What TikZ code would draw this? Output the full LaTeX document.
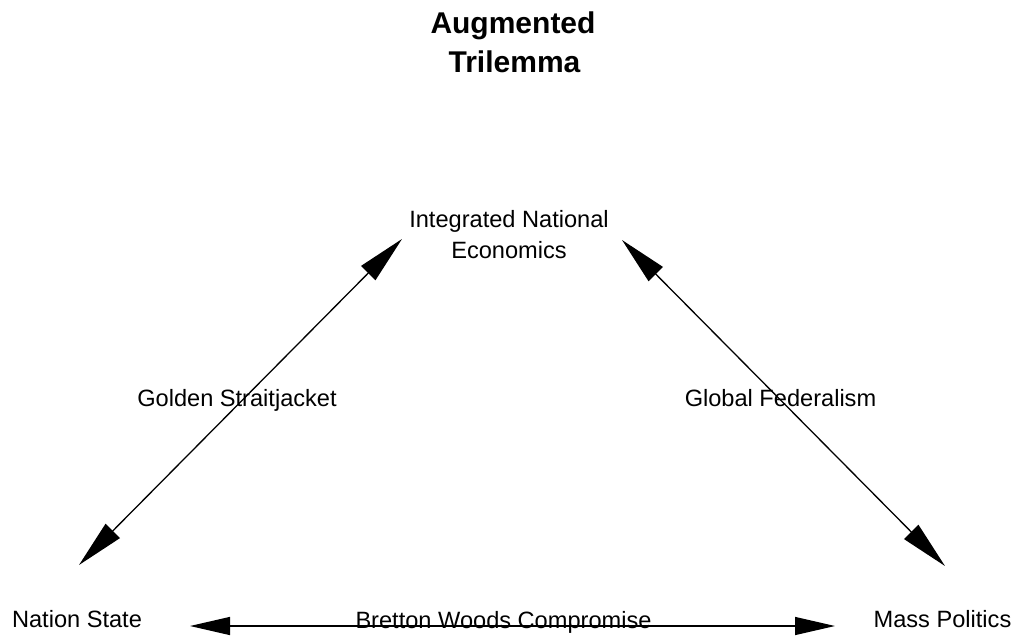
\documentclass[tikz,border=0pt]{standalone}
\usepackage{fontspec}
\setmainfont{Liberation Sans}
\usetikzlibrary{arrows.meta}
\tikzset{
  lbl/.style={inner sep=0pt, anchor=base, align=center, font=\fontsize{23.6}{31}\selectfont},
  ttl/.style={inner sep=0pt, anchor=base, align=center, font=\fontsize{30}{39}\selectfont\bfseries},
  diag/.style={line width=1.3pt, {Triangle[length=48pt,width=20pt]}-{Triangle[length=48pt,width=20pt]}},
  horiz/.style={line width=1.3pt, {Triangle[length=40pt,width=18pt]}-{Triangle[length=40pt,width=18pt]}}
}
\begin{document}
\begin{tikzpicture}[x=1pt,y=-1pt]
\useasboundingbox (0,0) rectangle (1018,635);
% title
\node[ttl] (title1) at (513,33) {Augmented};
\node[ttl] (title2) at (514.5,72) {Trilemma};
% vertices
\node[lbl] (ine1) at (509,227) {Integrated National};
\node[lbl] (ine2) at (509,258) {Economics};
\node[lbl] (ns) at (77,627.5) {Nation State};
\node[lbl] (mp) at (942.5,627.5) {Mass Politics};
% arrow end points
\coordinate (ineL) at (402,239);
\coordinate (nsT) at (79,565);
\coordinate (ineR) at (622,240);
\coordinate (mpT) at (945,566);
\coordinate (nsR) at (190,626);
\coordinate (mpL) at (835,626);
% connectors
\draw[diag] (ineL) -- (nsT);
\draw[diag] (ineR) -- (mpT);
\draw[horiz] (nsR) -- (mpL);
% labels
\node[lbl] (gs) at (237,406) {Golden Straitjacket};
\node[lbl] (gf) at (780.5,406) {Global Federalism};
\node[lbl] (bw) at (503.5,628.5) {Bretton Woods Compromise};
\end{tikzpicture}
\end{document}
